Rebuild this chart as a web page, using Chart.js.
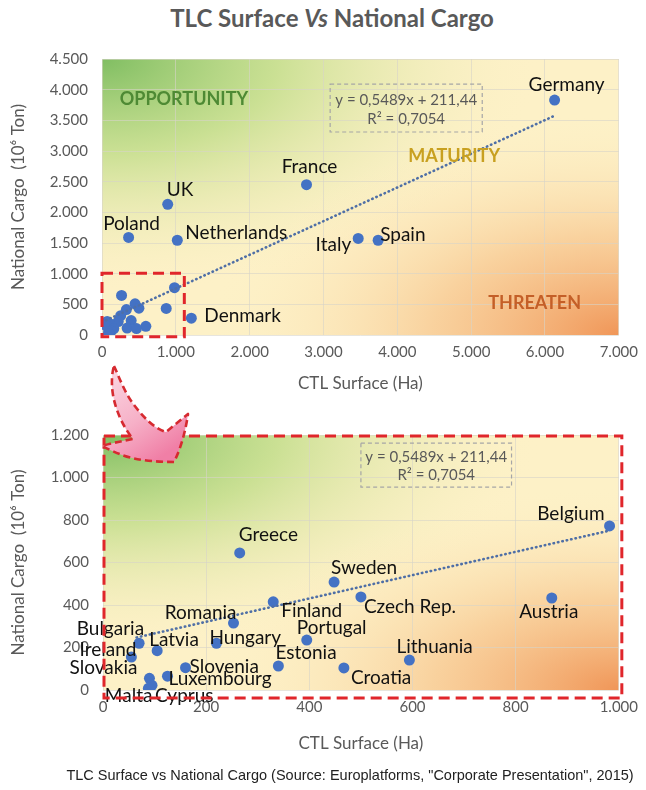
<!DOCTYPE html>
<html>
<head>
<meta charset="utf-8">
<title>TLC Surface Vs National Cargo</title>
<script src="https://cdn.jsdelivr.net/npm/chart.js@4.4.1/dist/chart.umd.min.js"></script>
<style>
    html, body { margin: 0; padding: 0; background: #fff; }
    #page { position: relative; width: 646px; height: 790px; overflow: hidden; }
    #title { position: absolute; top: 3px; left: 0; width: 664px; text-align: center; font: bold 24px Lato, sans-serif; color: #595959; }
    #top-wrap { position: absolute; left: 0; top: 30px; width: 646px; height: 370px; }
    #bottom-wrap { position: absolute; left: 0; top: 405px; width: 646px; height: 355px; }
    #caption { position: absolute; top: 767px; left: 0; width: 700px; text-align: center; font: 14.5px "Liberation Sans", Arial, sans-serif; color: #222; }
    #arrow { position: absolute; left: 0; top: 0; pointer-events: none; }
</style>
</head>
<body>
<div id="page">
    <div id="title">TLC Surface <i>Vs</i> National Cargo</div>
    <div id="top-wrap"><canvas id="topChart" width="646" height="370"></canvas></div>
    <div id="bottom-wrap"><canvas id="bottomChart" width="646" height="355"></canvas></div>
    <svg id="arrow" width="646" height="790">
        <defs>
            <linearGradient id="pink" x1="0" y1="0" x2="0.6" y2="1">
                <stop offset="0" stop-color="#fbdbe5"/>
                <stop offset="0.6" stop-color="#f6b0c7"/>
                <stop offset="1" stop-color="#f07fa6"/>
            </linearGradient>
        </defs>
        <path d="M114,366 C118,374 124,392 134,405 C144,418 154,428 166,432 L188,414 C186,428 182,446 174,462 C160,462 145,461 132,458 C120,455 110,450 102,446 C112,443 122,441 133,439 C124,428 116,412 113,395 C111,383 112,372 114,366 Z"
              fill="url(#pink)" stroke="#d62a30" stroke-width="2.6" stroke-dasharray="7 4" stroke-linejoin="round"/>
    </svg>
    <div id="caption">TLC Surface vs National Cargo (Source: Europlatforms, "Corporate Presentation", 2015)</div>
</div>

<script>
// values (surface in Ha, cargo in 10^6 ton)
const COUNTRIES = ['Germany', 'France', 'UK', 'Poland', 'Netherlands', 'Italy', 'Spain', 'Denmark',
    'Belgium', 'Austria', 'Sweden', 'Czech Rep.', 'Greece', 'Finland', 'Romania', 'Portugal',
    'Hungary', 'Latvia', 'Bulgaria', 'Ireland', 'Estonia', 'Slovenia', 'Luxembourg', 'Slovakia',
    'Lithuania', 'Croatia', 'Malta', 'Cyprus'];
const SURFACE_HA = [6130, 2770, 890, 360, 1020, 3470, 3740, 1210,
    982, 870, 448, 500, 265, 330, 253, 395,
    220, 105, 70, 55, 340, 160, 125, 90,
    594, 467, 88, 95];
const NATIONAL_CARGO = [3830, 2450, 2130, 1590, 1545, 1575, 1545, 275,
    772, 433, 508, 438, 645, 415, 315, 235,
    220, 185, 220, 155, 113, 105, 65, 55,
    141, 104, 8, 22];

// linear trend end points as drawn
const TREND_TOP_X = [55, 6130];
const TREND_TOP_Y = [240, 3575];
const TREND_BOTTOM_X = [65, 982];
const TREND_BOTTOM_Y = [247, 750];

const TOP_X_TICKS = [0, 7000, 1000];
const TOP_Y_TICKS = [0, 4500, 500];
const BOTTOM_X_TICKS = [0, 1000, 200];
const BOTTOM_Y_TICKS = [0, 1200, 200];

const EQUATION = ['y = 0,5489x + 211,44', 'R² = 0,7054'];

// label placement: [dx, dy, align] from the point centre
const LABEL_PLACE = {
    'Germany': [12, -15, 'center'], 'France': [3, -18, 'center'], 'UK': [-1, -14, 'left'],
    'Poland': [3, -14, 'center'], 'Netherlands': [8, -7, 'left'], 'Italy': [-7, 6, 'right'],
    'Spain': [2, -5, 'left'], 'Denmark': [13, -2, 'left'],
    'Greece': [-1, -18, 'left'], 'Sweden': [-3, -14, 'left'], 'Czech Rep.': [3, 10, 'left'],
    'Austria': [-3, 14, 'center'], 'Belgium': [-5, -12, 'right'], 'Lithuania': [-13, -13, 'left'],
    'Croatia': [7, 10, 'left'], 'Finland': [8, 9, 'left'], 'Romania': [3, -10, 'right'],
    'Portugal': [-10, -12, 'left'], 'Hungary': [-7, -5, 'left'], 'Latvia': [-8, -11, 'left'],
    'Bulgaria': [5, -14, 'right'], 'Ireland': [5, -7, 'right'], 'Estonia': [-3, -13, 'left'],
    'Slovenia': [4, -1, 'left'], 'Luxembourg': [1, 3, 'left'], 'Slovakia': [-12, -10, 'right'],
    'Malta': [4, 8, 'right'], 'Cyprus': [3, 11, 'left']
};

const TEXT_GREY = '#595959';
const POINT_BLUE = '#4472c4';

function thousands(v) {
    return String(v).replace(/\B(?=(\d{3})+(?!\d))/g, '.');
}

const gradientBg = {
    id: 'gradientBg',
    beforeDraw(chart) {
        const { ctx, chartArea: a } = chart;
        const w = a.right - a.left, h = a.bottom - a.top;
        ctx.save();
        ctx.beginPath();
        ctx.rect(a.left, a.top, w, h);
        ctx.clip();
        ctx.fillStyle = '#fdf1c7';
        ctx.fillRect(a.left, a.top, w, h);
        ctx.translate(a.left, a.top);
        ctx.scale(w, h);
        let g = ctx.createRadialGradient(0, 0, 0, 0, 0, 0.85);
        g.addColorStop(0, 'rgba(128,190,98,1)');
        g.addColorStop(0.4, 'rgba(190,220,135,0.8)');
        g.addColorStop(1, 'rgba(253,241,199,0)');
        ctx.fillStyle = g;
        ctx.fillRect(0, 0, 1, 1);
        g = ctx.createRadialGradient(1, 1, 0, 1, 1, 0.8);
        g.addColorStop(0, 'rgba(240,150,88,1)');
        g.addColorStop(0.45, 'rgba(247,196,140,0.7)');
        g.addColorStop(1, 'rgba(253,241,199,0)');
        ctx.fillStyle = g;
        ctx.fillRect(0, 0, 1, 1);
        ctx.restore();
    }
};

const pointLabels = {
    id: 'pointLabels',
    afterDatasetsDraw(chart) {
        const { ctx } = chart;
        const meta = chart.getDatasetMeta(1);
        const names = chart.data.datasets[1].names;
        ctx.save();
        ctx.font = '19px Lato, sans-serif';
        ctx.fillStyle = '#111';
        ctx.textBaseline = 'middle';
        meta.data.forEach((pt, i) => {
            const name = names[i];
            if (!name) return;
            const [dx, dy, align] = LABEL_PLACE[name] || [8, 0, 'left'];
            ctx.textAlign = align;
            ctx.fillText(name, pt.x + dx, pt.y + dy);
        });
        ctx.restore();
    }
};

const decorations = {
    id: 'decorations',
    afterDatasetsDraw(chart, args, o) {
        const { ctx, chartArea: a } = chart;
        const xs = chart.scales.x, ys = chart.scales.y;
        ctx.save();

        (o.quadrants || []).forEach(q => {
            ctx.font = 'bold 18px Lato, sans-serif';
            ctx.fillStyle = q.color;
            ctx.textAlign = 'center';
            ctx.textBaseline = 'middle';
            ctx.fillText(q.text, xs.getPixelForValue(q.x), ys.getPixelForValue(q.y));
        });

        if (o.eqBox) {
            const [x0, x1, y0, y1] = o.eqBox;
            const l = xs.getPixelForValue(x0), r = xs.getPixelForValue(x1);
            const t = ys.getPixelForValue(y1), b = ys.getPixelForValue(y0);
            ctx.setLineDash([4, 3]);
            ctx.strokeStyle = '#a6a6a6';
            ctx.lineWidth = 1.2;
            ctx.strokeRect(l, t, r - l, b - t);
            ctx.setLineDash([]);
            ctx.font = '15px Lato, sans-serif';
            ctx.fillStyle = TEXT_GREY;
            ctx.textAlign = 'center';
            ctx.textBaseline = 'middle';
            const cx = (l + r) / 2;
            ctx.fillText(EQUATION[0], cx, t + (b - t) * 0.33);
            ctx.fillText(EQUATION[1], cx, t + (b - t) * 0.74);
        }

        ctx.strokeStyle = '#e0262b';
        ctx.lineWidth = 3;
        ctx.setLineDash([11, 6]);
        if (o.zoomBox) {
            const [x0, x1, y0, y1] = o.zoomBox;
            const l = xs.getPixelForValue(x0), r = xs.getPixelForValue(x1);
            const t = ys.getPixelForValue(y1), b = ys.getPixelForValue(y0);
            ctx.strokeRect(l, t, r - l, b - t);
        }
        if (o.frame) {
            ctx.strokeRect(a.left + 1, a.top + 1, a.right - a.left + 2, a.bottom - a.top + 7);
        }
        ctx.restore();
    }
};

function buildChart(canvasId, cfg) {
    const points = [];
    const names = [];
    COUNTRIES.forEach((name, i) => {
        const x = SURFACE_HA[i], y = NATIONAL_CARGO[i];
        if (x > cfg.x[1] || y > cfg.y[1]) return;
        points.push({ x, y });
        names.push(cfg.labelIf(x, y) ? name : null);
    });

    return new Chart(document.getElementById(canvasId), {
        type: 'scatter',
        data: {
            datasets: [{
                data: cfg.trendX.map((x, i) => ({ x, y: cfg.trendY[i] })),
                showLine: true,
                pointRadius: 0,
                borderColor: '#4f6fa6',
                borderWidth: 2.6,
                borderDash: [0.5, 4],
                borderCapStyle: 'round'
            }, {
                data: points,
                names,
                pointRadius: 5.5,
                pointHoverRadius: 5.5,
                backgroundColor: POINT_BLUE,
                borderColor: POINT_BLUE,
                borderWidth: 0
            }]
        },
        options: {
            responsive: false,
            animation: false,
            events: [],
            layout: { padding: { top: cfg.padTop, right: cfg.padRight, left: 0, bottom: 0 } },
            plugins: {
                legend: { display: false },
                tooltip: { enabled: false },
                decorations: cfg.deco
            },
            scales: {
                x: {
                    type: 'linear',
                    min: cfg.x[0], max: cfg.x[1],
                    afterFit: s => { s.height = cfg.xAxisHeight; },
                    ticks: { stepSize: cfg.x[2], padding: 8, color: TEXT_GREY, font: { family: 'Lato', size: 15 }, callback: thousands },
                    grid: { color: 'rgba(215,212,200,0.6)', drawTicks: false },
                    border: { display: false },
                    title: { display: true, text: 'CTL Surface (Ha)', color: TEXT_GREY, font: { family: 'Lato', size: 17 }, padding: { top: 0, bottom: 6 } }
                },
                y: {
                    type: 'linear',
                    min: cfg.y[0], max: cfg.y[1],
                    afterFit: s => { s.width = cfg.yAxisWidth; },
                    ticks: { stepSize: cfg.y[2], padding: 14, color: TEXT_GREY, font: { family: 'Lato', size: 15 }, callback: thousands },
                    grid: { color: 'rgba(215,212,200,0.6)', drawTicks: false },
                    border: { display: false },
                    title: { display: true, text: 'National Cargo  (10⁶ Ton)', color: TEXT_GREY, font: { family: 'Lato', size: 17 }, padding: { top: 8, bottom: 0 } }
                }
            }
        },
        plugins: [gradientBg, pointLabels, decorations]
    });
}

buildChart('topChart', {
    x: TOP_X_TICKS, y: TOP_Y_TICKS,
    trendX: TREND_TOP_X, trendY: TREND_TOP_Y,
    padTop: 29, padRight: 23, xAxisHeight: 65, yAxisWidth: 102,
    labelIf: (x, y) => x > 1000 || y > 1000,
    deco: {
        quadrants: [
            { text: 'OPPORTUNITY', x: 1110, y: 3850, color: '#4e8a34' },
            { text: 'MATURITY', x: 4770, y: 2920, color: '#c8a020' },
            { text: 'THREATEN', x: 5860, y: 520, color: '#c45f28' }
        ],
        eqBox: [3090, 5150, 3310, 4090],
        zoomBox: [0, 1115, -30, 1006]
    }
});

buildChart('bottomChart', {
    x: BOTTOM_X_TICKS, y: BOTTOM_Y_TICKS,
    trendX: TREND_BOTTOM_X, trendY: TREND_BOTTOM_Y,
    padTop: 30, padRight: 25, xAxisHeight: 70, yAxisWidth: 103,
    labelIf: () => true,
    deco: {
        eqBox: [500, 792, 955, 1162],
        frame: true
    }
});
</script>
</body>
</html>
